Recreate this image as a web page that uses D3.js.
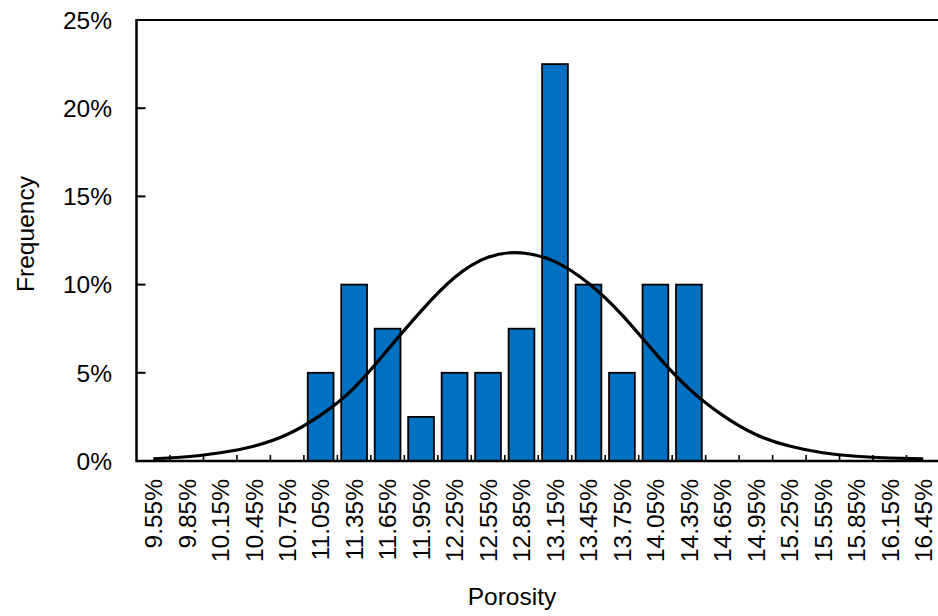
<!DOCTYPE html>
<html lang="en">
<head>
  <meta charset="UTF-8">
  <title>Porosity Histogram</title>
  <script src="https://d3js.org/d3.v7.min.js"></script>
  <style>
    body { margin: 0; background: #fff; }
    svg { display: block; font-family: "Liberation Sans", Arial, sans-serif; }
  </style>
</head>
<body>
<div id="chart"></div>
<script>

// bin labels (porosity classes)
const categories = ["9.55%", "9.85%", "10.15%", "10.45%", "10.75%", "11.05%", "11.35%", "11.65%",
  "11.95%", "12.25%", "12.55%", "12.85%", "13.15%", "13.45%", "13.75%", "14.05%",
  "14.35%", "14.65%", "14.95%", "15.25%", "15.55%", "15.85%", "16.15%", "16.45%"];

// observed frequency per bin (%)
const frequency = [0, 0, 0, 0, 0, 5, 10, 7.5, 2.5, 5, 5, 7.5, 22.5, 10, 5, 10, 10, 0, 0, 0, 0, 0, 0, 0];

// fitted normal curve, read at each bin centre (%)
const normalFit = [0.12, 0.24, 0.47, 0.84, 1.5, 2.6, 4.15, 6.3, 8.5, 10.4, 11.55, 11.8,
  11.3, 10.07, 8.28, 6.1, 4.1, 2.6, 1.5, 0.85, 0.47, 0.27, 0.17, 0.12];

const yTicks = [0, 5, 10, 15, 20, 25];

const width = 938;
const height = 616;
const margin = { top: 20, right: -2, bottom: 155, left: 136.5 };

const svg = d3.select("#chart")
  .append("svg")
  .attr("width", width)
  .attr("height", height);

const x = d3.scaleBand()
  .domain(categories)
  .range([margin.left, width - margin.right])
  .paddingInner(0.23)
  .paddingOuter(0.115);

const y = d3.scaleLinear()
  .domain([0, 25])
  .range([height - margin.bottom, margin.top]);

const fontSize = 24.5;

// bars
svg.append("g")
  .selectAll("rect")
  .data(categories.map((c, i) => ({ c, v: frequency[i] })).filter(d => d.v > 0))
  .join("rect")
  .attr("x", d => x(d.c))
  .attr("y", d => y(d.v))
  .attr("width", x.bandwidth())
  .attr("height", d => y(0) - y(d.v))
  .attr("fill", "#0070C0")
  .attr("stroke", "#000")
  .attr("stroke-width", 1.8);

// x ticks at bin boundaries, pointing up
const step = x.step();
svg.append("g")
  .selectAll("line")
  .data(d3.range(1, categories.length))
  .join("line")
  .attr("x1", i => margin.left + i * step)
  .attr("x2", i => margin.left + i * step)
  .attr("y1", y(0))
  .attr("y2", y(0) - 6)
  .attr("stroke", "#000")
  .attr("stroke-width", 1.6);

// normal curve
const line = d3.line()
  .x((d, i) => x(categories[i]) + x.bandwidth() / 2)
  .y(d => y(d))
  .curve(d3.curveNatural);

svg.append("path")
  .datum(normalFit)
  .attr("d", line)
  .attr("fill", "none")
  .attr("stroke", "#000")
  .attr("stroke-width", 3.2);

// axes lines
svg.append("line")
  .attr("x1", margin.left).attr("x2", width)
  .attr("y1", y(0)).attr("y2", y(0))
  .attr("stroke", "#000").attr("stroke-width", 2.5);

svg.append("line")
  .attr("x1", margin.left).attr("x2", width)
  .attr("y1", y(25)).attr("y2", y(25))
  .attr("stroke", "#000").attr("stroke-width", 2);

svg.append("line")
  .attr("x1", margin.left).attr("x2", margin.left)
  .attr("y1", y(25) - 1).attr("y2", y(0) + 1.2)
  .attr("stroke", "#000").attr("stroke-width", 2.5);

// y ticks (inward) and labels
const yG = svg.append("g");
yG.selectAll("line")
  .data(yTicks.filter(t => t > 0 && t < 25))
  .join("line")
  .attr("x1", margin.left)
  .attr("x2", margin.left + 9)
  .attr("y1", d => y(d))
  .attr("y2", d => y(d))
  .attr("stroke", "#000")
  .attr("stroke-width", 2);

yG.selectAll("text")
  .data(yTicks)
  .join("text")
  .attr("x", 112)
  .attr("y", d => y(d))
  .attr("dy", "0.36em")
  .attr("text-anchor", "end")
  .attr("font-size", fontSize)
  .attr("fill", "#000")
  .text(d => d + "%");

// x labels, rotated
svg.append("g")
  .selectAll("text")
  .data(categories)
  .join("text")
  .attr("transform", d => `translate(${x(d) + x.bandwidth() / 2},479) rotate(-90)`)
  .attr("dy", "0.36em")
  .attr("text-anchor", "end")
  .attr("font-size", fontSize)
  .attr("fill", "#000")
  .text(d => d);

// axis titles
svg.append("text")
  .attr("x", 512)
  .attr("y", 605)
  .attr("text-anchor", "middle")
  .attr("font-size", fontSize)
  .attr("fill", "#000")
  .text("Porosity");

svg.append("text")
  .attr("transform", "translate(34,234) rotate(-90)")
  .attr("text-anchor", "middle")
  .attr("font-size", fontSize)
  .attr("fill", "#000")
  .text("Frequency");

</script>
</body>
</html>
